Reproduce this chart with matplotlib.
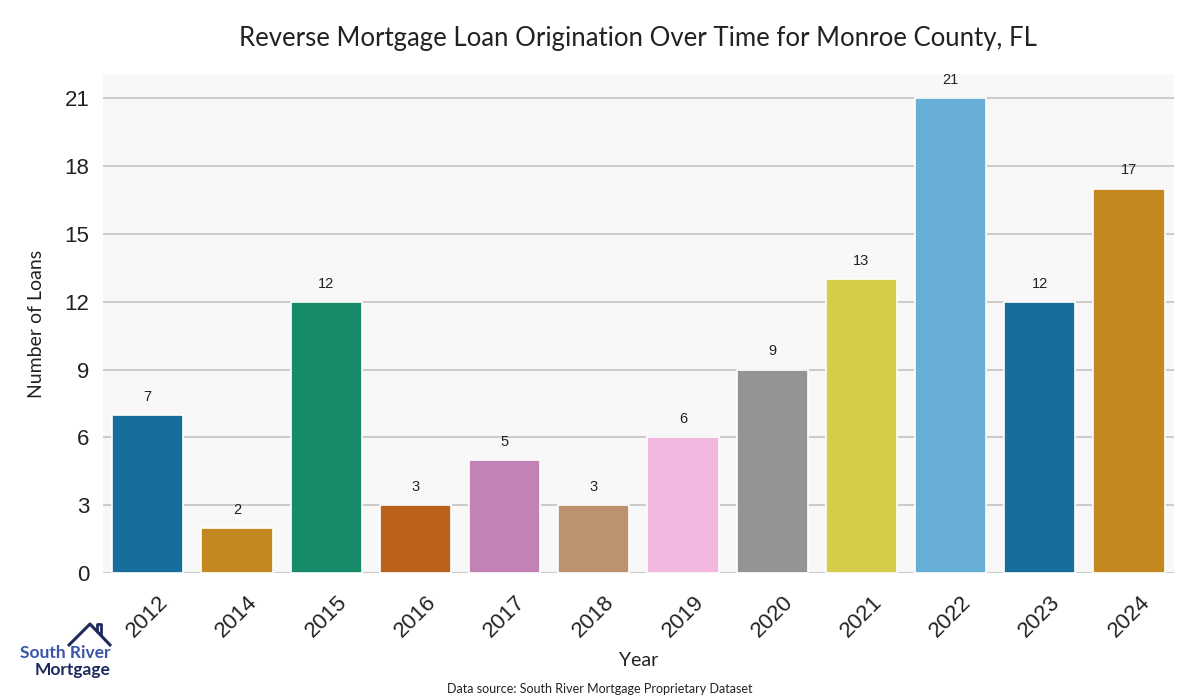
import matplotlib
matplotlib.use("Agg")
import matplotlib.pyplot as plt
import seaborn as sns
import pandas as pd
from matplotlib.lines import Line2D

years = ["2012", "2014", "2015", "2016", "2017", "2018", "2019", "2020", "2021", "2022", "2023", "2024"]
loans = [7, 2, 12, 3, 5, 3, 6, 9, 13, 21, 12, 17]
yticks = [0, 3, 6, 9, 12, 15, 18, 21]

sns.set_style("whitegrid")
plt.rcParams['font.family'] = ['Liberation Sans', 'DejaVu Sans']

df = pd.DataFrame({"Year": years, "Loans": loans})

fig = plt.figure(figsize=(12, 7), dpi=100)
ax = fig.add_axes([0.086, 0.181, 0.892, 0.713])
ax.set_facecolor("#f8f8f8")

sns.barplot(data=df, x="Year", y="Loans", hue="Year", palette="colorblind",
            legend=False, ax=ax, edgecolor="white", linewidth=1.2, width=0.8)

ax.set_ylim(0, 22.05)
ax.set_yticks(yticks)
ax.set_xlim(-0.5, len(years) - 0.5)
ax.grid(axis="y", color="#cccccc", linewidth=1.5)
ax.grid(axis="x", visible=False)
ax.set_axisbelow(True)
for s in ax.spines.values():
    s.set_visible(False)

ax.tick_params(axis="y", labelsize=16, colors="#222222", length=0, pad=10)
ax.tick_params(axis="x", labelsize=16, colors="#222222", length=0, pad=13)
for lbl in ax.get_xticklabels():
    lbl.set_rotation(45)
    lbl.set_ha("center")

for i, v in enumerate(loans):
    ax.annotate(str(v), (i, v), xytext=(0, 8), textcoords="offset points",
                ha="center", va="bottom", fontsize=10.5, color="#222222")

ax.set_xlabel("Year", fontsize=14, family=["Lato", "DejaVu Sans"], color="#222222", labelpad=8)
ax.set_ylabel("Number of Loans", fontsize=14, family=["Lato", "DejaVu Sans"], color="#222222", labelpad=14)

fig.text(0.532, 0.945, "Reverse Mortgage Loan Origination Over Time for Monroe County, FL",
         ha="center", va="center", fontsize=18.5, family=["Lato", "DejaVu Sans"], color="#222222")
fig.text(0.5, 0.016, "Data source: South River Mortgage Proprietary Dataset",
         ha="center", va="center", fontsize=9, family=["Lato", "DejaVu Sans"], color="#222222")

# logo
W, H = 1200, 700
fig.text(111 / W, 1 - 653 / H, "South River", ha="right", va="center", fontsize=12.5,
         color="#3a55a8", family=["Lato", "DejaVu Sans"], fontweight="bold")
fig.text(111 / W, 1 - 670 / H, "Mortgage", ha="right", va="center", fontsize=12.5,
         color="#1f2a5c", family=["Lato", "DejaVu Sans"], fontweight="bold")
hx = [68, 90, 111]
hy = [H - 646, H - 624, H - 646]
fig.add_artist(Line2D([x / W for x in hx], [y / H for y in hy], color="#1f2a5c", lw=2.2,
                      transform=fig.transFigure, solid_capstyle="butt"))
cx = [97, 97, 101, 101]
cy = [H - 631, H - 624, H - 624, H - 635]
fig.add_artist(Line2D([x / W for x in cx], [y / H for y in cy], color="#1f2a5c", lw=2.0,
                      transform=fig.transFigure))

fig.savefig("out.png", dpi=100, facecolor="white")
